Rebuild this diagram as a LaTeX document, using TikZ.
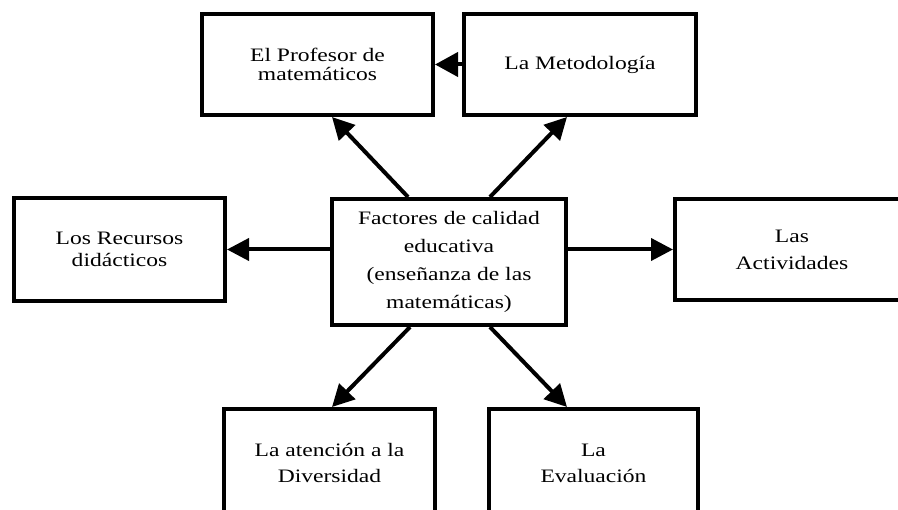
\documentclass[tikz,border=0pt]{standalone}
\usepackage{fontspec}
\setmainfont{Liberation Serif}[FakeStretch=1.24]
\usetikzlibrary{arrows.meta}
\tikzset{
  box/.style={draw=black, line width=4pt, rectangle, align=center, inner sep=0pt, fill=white},
  conn/.style={line width=4pt, -{Triangle[length=22pt,width=22pt]}}
}
\begin{document}
\begin{tikzpicture}[x=1pt,y=-1pt]
\clip (0,0) rectangle (898,510);
\fill[white] (0,0) rectangle (898,510);
\node[box, minimum width=231pt, minimum height=101pt, font=\fontsize{19}{19}\selectfont] (prof) at (317.5,64.5) {El Profesor de\\matemáticos};
\node[box, minimum width=232pt, minimum height=101pt, font=\fontsize{19}{19}\selectfont] (met) at (580,64.5) {La Metodología};
\node[box, minimum width=211pt, minimum height=103pt, font=\fontsize{19}{22}\selectfont] (rec) at (119.5,249.5) {Los Recursos\\didácticos};
\node[box, minimum width=234pt, minimum height=126pt, font=\fontsize{19}{28}\selectfont] (c) at (449,262) {Factores de calidad\\educativa\\(enseñanza de las\\matemáticas)};
\node[box, minimum width=234pt, minimum height=101pt, font=\fontsize{19}{27}\selectfont] (act) at (792,249.5) {Las\\Actividades};
\node[box, minimum width=211pt, minimum height=108pt, font=\fontsize{19}{26}\selectfont] (div) at (329.5,463) {La atención a la\\Diversidad};
\node[box, minimum width=209pt, minimum height=108pt, font=\fontsize{19}{26}\selectfont] (eva) at (593.5,463) {La\\Evaluación};
\draw[line width=4pt, -{Triangle[length=23pt,width=24pt]}] ([xshift=3pt]met.west) -- (prof.east);
\draw[conn] (c.west |- rec.east) -- (rec.east);
\draw[conn] (c.east |- act.west) -- (act.west);
\draw[conn] ([xshift=-41pt]c.north) -- ([xshift=14.5pt]prof.south);
\draw[conn] ([xshift=41pt]c.north) -- ([xshift=-13pt]met.south);
\draw[conn] ([xshift=-39pt]c.south) -- ([xshift=2.5pt]div.north);
\draw[conn] ([xshift=41pt]c.south) -- ([xshift=-26.5pt]eva.north);
\end{tikzpicture}
\end{document}
